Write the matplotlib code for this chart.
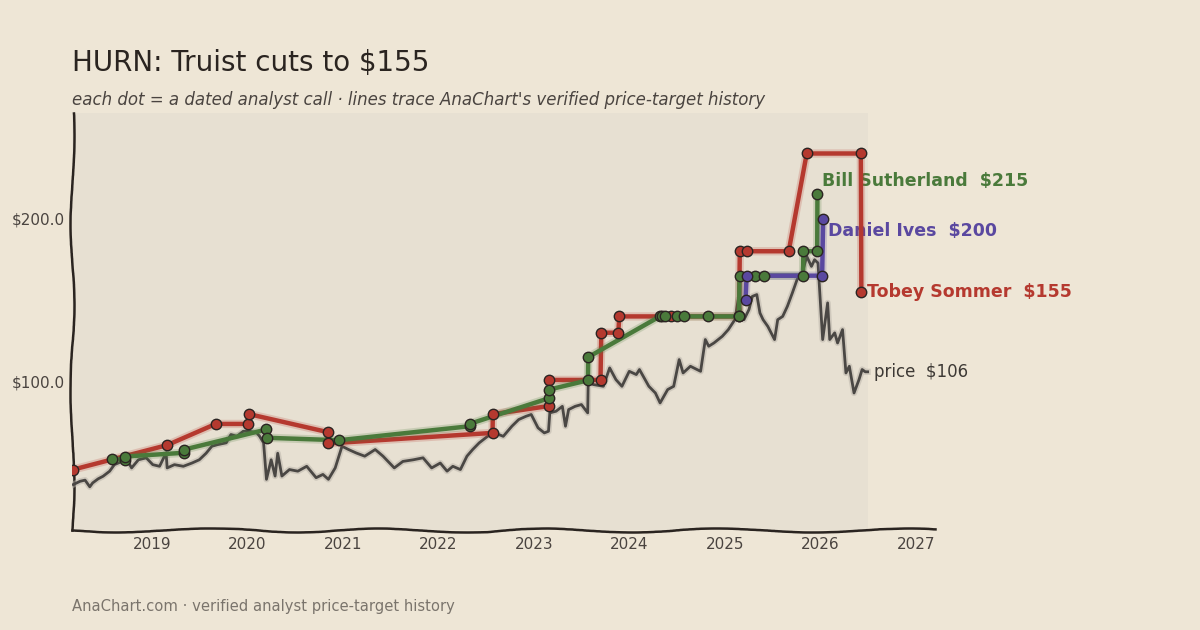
import matplotlib
matplotlib.use("Agg")
import matplotlib.pyplot as plt
import matplotlib.dates as mdates
import matplotlib.patheffects as pe
import pandas as pd

# closing price
price_dates = [
    "2018-03-06", "2018-04-01", "2018-04-20", "2018-05-08", "2018-05-19", "2018-06-09",
    "2018-06-28", "2018-07-23", "2018-08-10", "2018-09-01", "2018-09-27", "2018-10-15",
    "2018-11-10", "2018-12-10", "2019-01-04", "2019-01-30", "2019-02-24", "2019-02-28",
    "2019-03-28", "2019-05-01", "2019-06-03", "2019-07-01", "2019-07-27", "2019-08-18",
    "2019-09-09", "2019-10-12", "2019-10-30", "2019-11-22", "2019-12-16", "2020-01-10",
    "2020-02-06", "2020-02-17", "2020-03-03", "2020-03-14", "2020-04-01", "2020-04-16",
    "2020-04-26", "2020-05-12", "2020-06-10", "2020-07-12", "2020-08-15", "2020-09-20",
    "2020-10-16", "2020-11-06", "2020-12-02", "2020-12-28", "2021-01-22", "2021-02-20",
    "2021-03-25", "2021-05-04", "2021-06-03", "2021-07-16", "2021-08-18", "2021-09-27",
    "2021-11-03", "2021-12-06", "2022-01-08", "2022-02-03", "2022-02-25", "2022-03-26",
    "2022-04-20", "2022-05-12", "2022-06-06", "2022-07-08", "2022-08-04", "2022-09-06",
    "2022-10-09", "2022-11-04", "2022-12-02", "2022-12-22", "2023-01-17", "2023-02-10",
    "2023-02-26", "2023-03-03", "2023-03-27", "2023-04-20", "2023-05-02", "2023-05-14",
    "2023-06-08", "2023-07-02", "2023-07-26", "2023-07-28", "2023-08-16", "2023-09-24",
    "2023-10-18", "2023-11-11", "2023-12-04", "2024-01-01", "2024-01-28", "2024-02-09",
    "2024-03-16", "2024-04-10", "2024-04-28", "2024-05-27", "2024-06-19", "2024-07-10",
    "2024-07-25", "2024-08-22", "2024-09-30", "2024-10-18", "2024-10-31", "2024-11-20",
    "2024-12-22", "2025-01-14", "2025-02-08", "2025-02-21", "2025-03-03", "2025-03-15",
    "2025-04-03", "2025-04-16", "2025-05-03", "2025-05-15", "2025-05-27", "2025-06-14",
    "2025-07-10", "2025-07-22", "2025-08-10", "2025-08-28", "2025-09-16", "2025-10-04",
    "2025-10-24", "2025-11-10", "2025-11-28", "2025-12-10", "2025-12-23", "2026-01-10",
    "2026-01-29", "2026-02-06", "2026-02-25", "2026-03-08", "2026-03-27", "2026-04-09",
    "2026-04-22", "2026-05-10", "2026-05-29", "2026-06-10", "2026-06-22", "2026-07-01",
]
price_vals = [
    36.8, 38.8, 39.5, 35.4, 37.8, 40.3,
    41.9, 45.0, 49.0, 50.5, 52.1, 47.0,
    52.0, 53.2, 49.0, 48.0, 56.3, 47.0,
    49.0, 48.0, 50.0, 52.0, 56.0, 60.3,
    61.3, 62.4, 67.5, 66.4, 69.5, 69.5,
    68.5, 66.4, 62.4, 40.0, 52.0, 42.0,
    56.0, 42.0, 46.0, 45.0, 48.0, 41.0,
    43.0, 40.0, 47.0, 60.3, 58.3, 56.2,
    54.2, 58.3, 54.2, 47.0, 51.0, 52.0,
    53.2, 47.0, 50.0, 45.0, 48.0, 46.0,
    54.2, 58.3, 62.4, 66.4, 68.5, 66.4,
    72.6, 76.7, 78.7, 79.8, 71.6, 68.5,
    69.5, 80.8, 81.8, 84.8, 72.6, 82.8,
    84.8, 85.9, 80.8, 100.2, 98.2, 97.1,
    108.4, 101.2, 97.1, 106.3, 104.3, 107.4,
    97.1, 93.0, 86.9, 95.1, 97.1, 113.5,
    105.3, 109.4, 106.3, 125.8, 121.7, 123.7,
    127.8, 131.9, 138.0, 150.3, 142.0, 138.0,
    144.2, 152.3, 153.4, 142.1, 138.0, 133.9,
    125.8, 138.0, 140.0, 146.2, 154.4, 162.6,
    166.7, 176.9, 170.7, 174.8, 172.8, 125.8,
    148.3, 125.8, 129.9, 123.7, 131.9, 105.3,
    109.4, 93.0, 101.2, 107.4, 106.0, 106.0,
]

# analyst price-target histories
tobey_dates = [
    "2018-03-06", "2019-02-28", "2019-09-02", "2020-01-05", "2020-01-08", "2020-11-03",
    "2020-11-04", "2022-07-27", "2022-07-28", "2023-02-28", "2023-03-01", "2023-09-13",
    "2023-09-16", "2023-11-20", "2023-11-24", "2024-06-10", "2025-02-24", "2025-02-27",
    "2025-03-25", "2025-09-02", "2025-11-10", "2026-06-05", "2026-06-07",
]
tobey_vals = [46, 61, 74, 74, 80, 69, 62, 68.5, 80, 85, 101, 101,
              130, 130, 140, 140, 140, 180, 180, 180, 240, 240, 155]

bill_dates = [
    "2018-07-31", "2018-09-20", "2018-09-21", "2019-05-04", "2019-05-05", "2020-03-14",
    "2020-03-16", "2020-12-17", "2022-05-01", "2022-05-03", "2023-02-28", "2023-03-01",
    "2023-07-27", "2023-07-28", "2024-04-27", "2024-05-05", "2024-05-15", "2024-07-01",
    "2024-07-27", "2024-10-27", "2025-02-24", "2025-02-26", "2025-04-27", "2025-05-30",
    "2025-10-27", "2025-10-28", "2025-12-20", "2025-12-21",
]
bill_vals = [52.6, 52, 54, 56.3, 58.3, 70.6, 65.5, 64, 72.6, 74.2, 89.8, 95.1,
             100.8, 115, 140, 140, 140, 140, 140, 140, 140, 165, 165, 165,
             165, 180, 180, 215]

dan_dates = ["2025-03-21", "2025-03-25", "2026-01-08", "2026-01-12"]
dan_vals = [150, 165, 165, 200]

analysts = [
    ("Tobey Sommer", tobey_dates, tobey_vals, "#b5392f", (6, 0)),
    ("Bill Sutherland", bill_dates, bill_vals, "#4a7a3b", (5, 13)),
    ("Daniel Ives", dan_dates, dan_vals, "#5a48a0", (5, -12)),
]

fig_bg = "#eee6d6"
panel_bg = "#e7e0d2"

plt.rcParams["font.family"] = ["DejaVu Sans"]

fig = plt.figure(figsize=(12, 6.3), dpi=100, facecolor=fig_bg)
ax = fig.add_axes([0.06, 0.159, 0.719, 0.662])
ax.set_facecolor(fig_bg)

pdates = pd.to_datetime(price_dates)
x0 = pd.Timestamp("2018-03-01")
ax.axvspan(x0, pdates[-1], color=panel_bg, zorder=0, lw=0)

ax.plot(pdates, price_vals, color="#4a4744", lw=2.0, zorder=3,
        path_effects=[pe.withStroke(linewidth=4.5, foreground="#b8b2a8", alpha=0.5)])

for name, d, v, col, off in analysts:
    dd = pd.to_datetime(d)
    ax.plot(dd, v, color=col, lw=3.2, zorder=4, solid_capstyle="round",
            path_effects=[pe.withStroke(linewidth=6, foreground=col, alpha=0.2)])
    ax.plot(dd, v, "o", ms=7.5, mfc=col, mec="#2b2422", mew=1.0, zorder=5)
    ax.annotate(f"{name}  ${v[-1]:.0f}", (dd[-1], v[-1]), xytext=off,
                textcoords="offset pixels", color=col, fontsize=12.5,
                fontweight="bold", va="center", ha="left", annotation_clip=False)

ax.annotate(f"price  ${price_vals[-1]:.0f}", (pdates[-1], price_vals[-1]),
            xytext=(6, 0), textcoords="offset pixels", color="#3d3935",
            fontsize=12, va="center", ha="left", annotation_clip=False)

ax.set_xlim(x0, pd.Timestamp("2027-03-15"))
ax.set_ylim(9, 265)
ax.xaxis.set_major_locator(mdates.YearLocator())
ax.xaxis.set_major_formatter(mdates.DateFormatter("%Y"))
ax.set_yticks([100, 200])
ax.yaxis.set_major_formatter(lambda v, p: f"${v:.1f}")
ax.tick_params(length=0, labelsize=11, colors="#4a4440", pad=5)

for s in ["top", "right"]:
    ax.spines[s].set_visible(False)
for s in ["left", "bottom"]:
    ax.spines[s].set_color("#2a2420")
    ax.spines[s].set_linewidth(1.8)
    ax.spines[s].set_sketch_params(2, 220, 3)

fig.text(0.06, 0.9, "HURN: Truist cuts to $155", fontsize=20, color="#2a2420",
         va="center", ha="left")
fig.text(0.06, 0.841, "each dot = a dated analyst call \u00b7 lines trace AnaChart's verified price-target history",
         fontsize=12, style="italic", color="#4a4440", va="center", ha="left")
fig.text(0.06, 0.038, "AnaChart.com \u00b7 verified analyst price-target history",
         fontsize=10.6, color="#7a746c", va="center", ha="left")

fig.savefig("out.png", dpi=100, facecolor=fig_bg)
